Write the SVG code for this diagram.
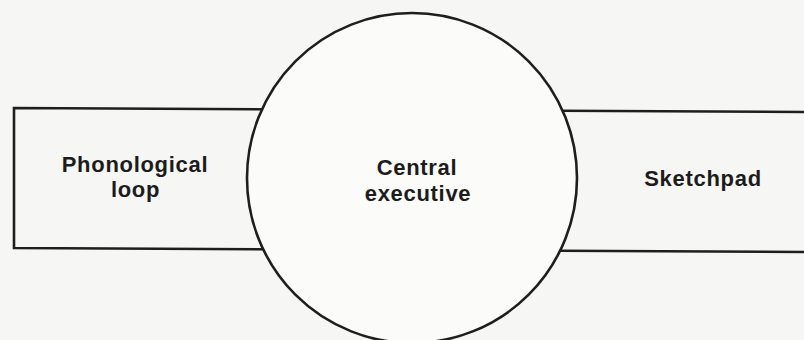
<svg xmlns="http://www.w3.org/2000/svg" width="804" height="340" viewBox="0 0 804 340">
<style>
.ln{fill:none;stroke:#1e1e1e;stroke-width:2.6}
.t{font-family:"Liberation Sans",Arial,sans-serif;font-weight:bold;font-size:22px;letter-spacing:0.7px;fill:#1c1c1c;text-anchor:middle}
</style>
<rect width="804" height="340" fill="#f6f6f4"/>
<g id="box">
<path class="ln" d="M806,112 L14,108 L14,248 L806,252"/>
</g>
<g id="central-executive">
<circle cx="412" cy="178" r="165" fill="#fbfbfa" stroke="#1e1e1e" stroke-width="2.6"/>
<text class="t" x="417" y="175">Central</text>
<text class="t" x="418" y="201">executive</text>
</g>
<g id="phonological-loop">
<text class="t" x="135" y="172">Phonological</text>
<text class="t" x="135.5" y="197">loop</text>
</g>
<g id="sketchpad">
<text class="t" x="703" y="186">Sketchpad</text>
</g>
<g id="connectors"></g>
</svg>
